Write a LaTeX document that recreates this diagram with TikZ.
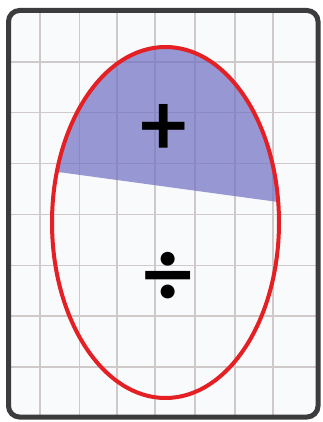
\documentclass[tikz,border=0pt]{standalone}
\usepackage{fontspec}
\newfontfamily\symfont{Lato}
\definecolor{framecol}{RGB}{60,60,62}
\definecolor{gridcol}{RGB}{208,201,201}
\definecolor{bgcol}{RGB}{249,250,252}
\definecolor{bluecol}{RGB}{110,110,195}
\definecolor{redcol}{RGB}{228,32,36}
\tikzset{
  gridline/.style={draw=gridcol, line width=1.3pt},
  framebox/.style={draw=framecol, line width=5pt, rounded corners=11pt},
  region/.style={fill=bluecol, fill opacity=0.7},
  outline/.style={draw=redcol, line width=4pt},
  sym/.style={inner sep=0pt, font=\symfont\bfseries}
}
\begin{document}
\begin{tikzpicture}[x=1pt,y=-1pt]
\useasboundingbox (0,0) rectangle (323,422);
\fill[white] (0,0) rectangle (323,422);
\begin{scope}
  \clip[rounded corners=11pt] (8.5,10.5) rectangle (318,417);
  \fill[bgcol] (0,0) rectangle (323,422);
  \foreach \x in {40,79.5,117,155,195,235,273}
    \draw[gridline] (\x,0) -- (\x,422);
  \foreach \y in {62,112.8,163.7,214.5,265.3,316,367}
    \draw[gridline] (0,\y) -- (323,\y);
\end{scope}
\begin{scope}
  \clip (40,0) -- (300,0) -- (300,205) -- (40,169.5) -- cycle;
  \fill[region] (165.5,222.5) ellipse [x radius=113.5, y radius=175.5];
\end{scope}
\draw[outline] (165.5,222.5) ellipse [x radius=113.5, y radius=175.5];
\draw[framebox] (8.5,10.5) rectangle (318,417);
\node[sym] (plus) at (164,129.5) {\fontsize{87}{87}\selectfont +};
\node[sym] (div) at (168,279.5) {\fontsize{92}{92}\selectfont ÷};
\end{tikzpicture}
\end{document}
